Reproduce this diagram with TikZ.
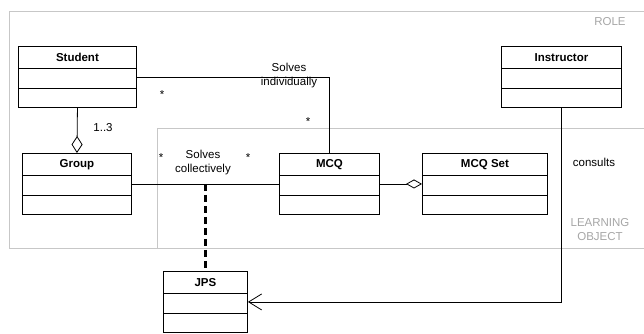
\documentclass[tikz,border=0pt]{standalone}
\usepackage{fontspec}
\setmainfont{Liberation Sans}
\tikzstyle{every node}+=[inner sep=0pt,font=\fontsize{11.5}{14}\selectfont]
\usetikzlibrary{arrows.meta,calc,positioning}
\tikzstyle{classbox}=[draw,line width=0.9pt,minimum height=61pt,anchor=north west]
\tikzstyle{classtitle}=[anchor=north,minimum height=22pt,font=\fontsize{11.5}{14}\selectfont\bfseries]
\tikzstyle{frame}=[draw=black!22,line width=0.8pt]
\tikzstyle{framelabel}=[text=black!35,align=center]
\tikzstyle{assoc}=[line width=0.8pt]
\tikzstyle{label}=[align=center]
\newcommand{\umlclass}[4]{
	\node[classbox,minimum width=#3] (#1) at (#2) {};
	\node[classtitle] (#1-title) at (#1.north) {#4};
	\draw[assoc] ([yshift=-22pt]#1.north west) -- ([yshift=-22pt]#1.north east);
	\draw[assoc] ([yshift=-42pt]#1.north west) -- ([yshift=-42pt]#1.north east);
}

\begin{document}
\begin{tikzpicture}[x=1pt,y=-1pt]
	\useasboundingbox (0,0) rectangle (644,333);
	% packages
	\draw[frame] (650,11) -- (9,11) -- (9,248) -- (650,248);
	\draw[frame] (650,128) -- (157,128) -- (157,248);
	\node[framelabel] (role) at (610,22) {ROLE};
	\node[framelabel] (lo) at (600,230) {LEARNING\\OBJECT};
	% classes
	\umlclass{Student}{18,46}{118pt}{Student}
	\umlclass{Instructor}{501,46}{120pt}{Instructor}
	\umlclass{Group}{22,153}{109pt}{Group}
	\umlclass{MCQ}{279,153}{100pt}{MCQ}
	\umlclass{MCQSet}{422,153}{125pt}{MCQ Set}
	\umlclass{JPS}{163,271}{84pt}{JPS}
	% associations
	\draw[assoc] (Student.east) -- (Student.east -| MCQ.north) -- (MCQ.north);
	\draw[assoc,-{Diamond[open,length=17pt,width=11pt]}] (Student.south) -- (Group.north);
	\draw[assoc] (Group.east) -- (MCQ.west);
	\draw[assoc,-{Diamond[open,length=16pt,width=9pt]}] (MCQ.east) -- (MCQSet.west);
	\coordinate (collective) at (JPS.north |- Group.east);
	\draw[line width=2.2pt,dash pattern=on 7pt off 4pt] (collective) -- (JPS.north);
	\draw[assoc,-{Straight Barb[length=13pt,width=16pt]}] (Instructor.south) |- (JPS.east);
	% labels
	\node[label] (indiv) at (289,75.5) {Solves\\individually};
	\node[label] (collect) at (203,162.5) {Solves\\collectively};
	\node (consults) at (594,162) {consults};
	\node (card13) at (103,128) {1..3};
	\node (s1) at (162,95) {*};
	\node (s2) at (308,122) {*};
	\node (s3) at (161,158) {*};
	\node (s4) at (248,158) {*};
\end{tikzpicture}
\end{document}
